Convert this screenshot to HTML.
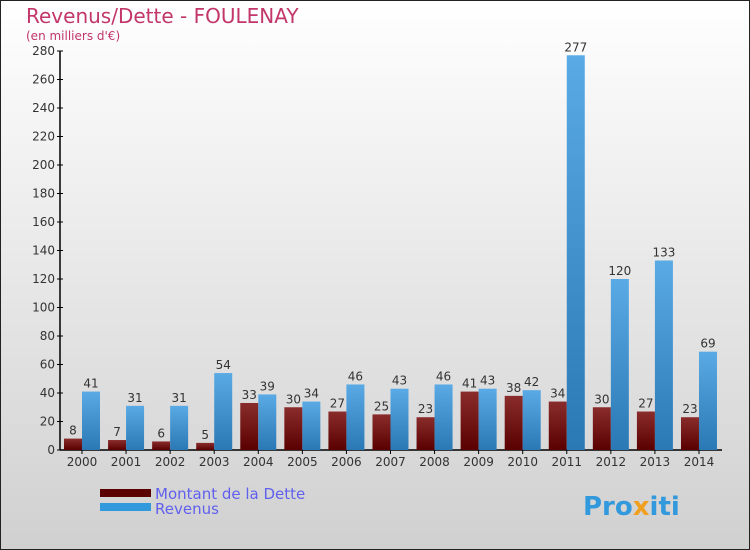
<!DOCTYPE html>
<html><head><meta charset="utf-8"><style>
body{margin:0}
#c{width:750px;height:550px;position:relative;overflow:hidden}
svg text{font-family:"DejaVu Sans","Liberation Sans",sans-serif}
</style></head><body>
<div id="c">
<svg id="s" width="750" height="550" xmlns="http://www.w3.org/2000/svg">
<defs>
<linearGradient id="bg" x1="0" y1="0" x2="0" y2="1"><stop offset="0" stop-color="#ffffff"/><stop offset="1" stop-color="#d0d0d0"/></linearGradient>
<linearGradient id="gd" x1="0" y1="0" x2="0" y2="1"><stop offset="0" stop-color="#8a2c2c"/><stop offset="1" stop-color="#5a0000"/></linearGradient>
<linearGradient id="gr" x1="0" y1="0" x2="0" y2="1"><stop offset="0" stop-color="#5aaae6"/><stop offset="1" stop-color="#2a78b4"/></linearGradient>
</defs>
<rect x="0.5" y="0.5" width="749" height="549" fill="url(#bg)" stroke="#222"/>
<text x="26" y="23" font-size="20" fill="#c2366a">Revenus/Dette - FOULENAY</text>
<text x="26" y="40" font-size="12" fill="#c2366a">(en milliers d'€)</text>
<g id="axes"></g>
<g id="bars"></g>
<rect x="100" y="489" width="51" height="8" fill="#5a0000"/>
<text x="155" y="499" font-size="15" fill="#6060ee">Montant de la Dette</text>
<rect x="100" y="503" width="51" height="8" fill="#3399dd"/>
<text x="155" y="514" font-size="15" fill="#6060ee">Revenus</text>
<text x="583" y="515" font-size="26" font-weight="bold" fill="#3399dd">Pro<tspan fill="#f0a020">x</tspan>iti</text>
</svg>
</div>
<script>
const years=["2000","2001","2002","2003","2004","2005","2006","2007","2008","2009","2010","2011","2012","2013","2014"];
const dette=[8,7,6,5,33,30,27,25,23,41,38,34,30,27,23];
const revenus=[41,31,31,54,39,34,46,43,46,43,42,277,120,133,69];
const yTicks=[0,20,40,60,80,100,120,140,160,180,200,220,240,260,280];
const NS="http://www.w3.org/2000/svg";
const y0=450,yScale=399/280,x0=82,step=44.07,bw=18;
const yPos=v=>y0-v*yScale;
const xPos=i=>x0+i*step;
function mk(t,a,p){const e=document.createElementNS(NS,t);for(const k in a)e.setAttribute(k,a[k]);p.appendChild(e);return e;}
const ax=document.getElementById('axes'),bg=document.getElementById('bars');
const yl=mk('line',{x1:60,y1:y0,x2:60,y2:yPos(280),stroke:'#000','stroke-width':1.5},ax);


const xl=mk('line',{x1:60,y1:y0,x2:722,y2:y0,stroke:'#000','stroke-width':1.5},ax);


yTicks.forEach(v=>{
  mk('line',{x1:57,x2:63,y1:yPos(v),y2:yPos(v),stroke:'#000'},ax);
  const t=mk('text',{x:55,y:yPos(v)+4,'font-size':12,'text-anchor':'end',fill:'#333'},ax);
  t.textContent=v;
  
  
});
years.forEach((yr,i)=>{
  const cx=xPos(i);
  mk('line',{x1:cx,x2:cx,y1:y0,y2:y0+4,stroke:'#000'},ax);
  const t=mk('text',{x:cx,y:466,'font-size':12,'text-anchor':'middle',fill:'#333'},ax);
  t.textContent=yr;
  
  
  const d=mk('rect',{x:cx-bw,y:yPos(dette[i]),width:bw,height:dette[i]*yScale,fill:'url(#gd)'},bg);
  
  
  const r=mk('rect',{x:cx,y:yPos(revenus[i]),width:bw,height:revenus[i]*yScale,fill:'url(#gr)'},bg);
  
  
  const dl=mk('text',{x:cx-bw/2,y:yPos(dette[i])-4,'font-size':12,'text-anchor':'middle',fill:'#333'},bg);
  dl.textContent=dette[i];
  
  
  const rl=mk('text',{x:cx+bw/2,y:yPos(revenus[i])-4,'font-size':12,'text-anchor':'middle',fill:'#333'},bg);
  rl.textContent=revenus[i];
  
  
});
</script>
</body></html>
